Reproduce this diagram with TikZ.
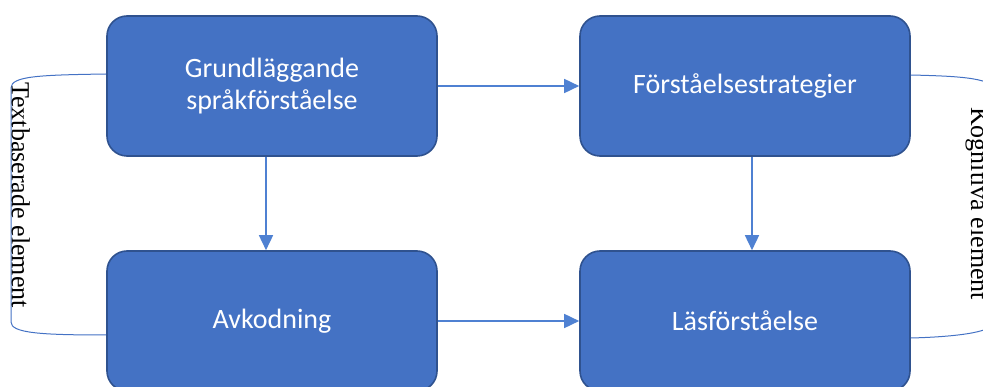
\documentclass[tikz,border=0pt]{standalone}
\usepackage{fontspec}
\setmainfont{Liberation Serif}
\newfontfamily\calibri{Carlito}
\usetikzlibrary{arrows.meta,positioning,calc}
\definecolor{OffBlue}{RGB}{68,114,196}
\definecolor{OffEdge}{RGB}{47,82,143}
\definecolor{PilBlue}{RGB}{79,129,210}
\tikzset{
  block/.style={rectangle,rounded corners=20pt,draw=OffEdge,line width=1.6pt,
                fill=OffBlue,minimum width=330pt,minimum height=140pt,
                text=white,align=center,
                font=\calibri\fontsize{28}{32}\selectfont},
  pil/.style={-{Triangle[length=15pt,width=14pt]},line width=1.6pt,PilBlue},
  klammer/.style={OffBlue,line width=1pt},
  etikett/.style={font=\fontsize{26}{30}\selectfont,rotate=-90,inner sep=0pt},
}

\begin{document}
\begin{tikzpicture}[x=1pt,y=-1pt]
  \useasboundingbox (0,0) rectangle (983,387);
  \clip (0,0) rectangle (983,387);
  % blocken
  \node[block] (grund) at (272,86)  {Grundläggande\\språkförståelse};
  \node[block] (strat) at (745,86)  {Förståelsestrategier};
  \node[block] (avk)   at (272,321) {Avkodning};
  \node[block] (las)   at (745,321) {Läsförståelse};
  % pilar
  \draw[pil] (grund) -- (strat);
  \draw[pil] (avk) -- (las);
  \draw[pil] ([xshift=-6pt]grund.south) -- ([xshift=-6pt]grund.south |- avk.north);
  \draw[pil] ([xshift=7pt]strat.south) -- ([xshift=7pt]strat.south |- las.north);
  % klamrar
  \draw[klammer] ($(grund.west)+(0,-12)$) .. controls (40,75) and (11,76) .. (11,88)
    -- (11,322) .. controls (11,333) and (40,335) .. ($(avk.west)+(0,14)$);
  \draw[klammer] ($(strat.east)+(0,-11)$) .. controls (950,76) and (994,77) .. (994,90)
    -- (994,322) .. controls (994,333) and (950,337) .. ($(las.east)+(0,17)$);
  % etiketter
  \node[etikett,anchor=base west] (textbas) at (12,82)  {Textbaserade element};
  \node[etikett,anchor=base west] (kogn)    at (971,107) {Kognitiva element};
\end{tikzpicture}
\end{document}
